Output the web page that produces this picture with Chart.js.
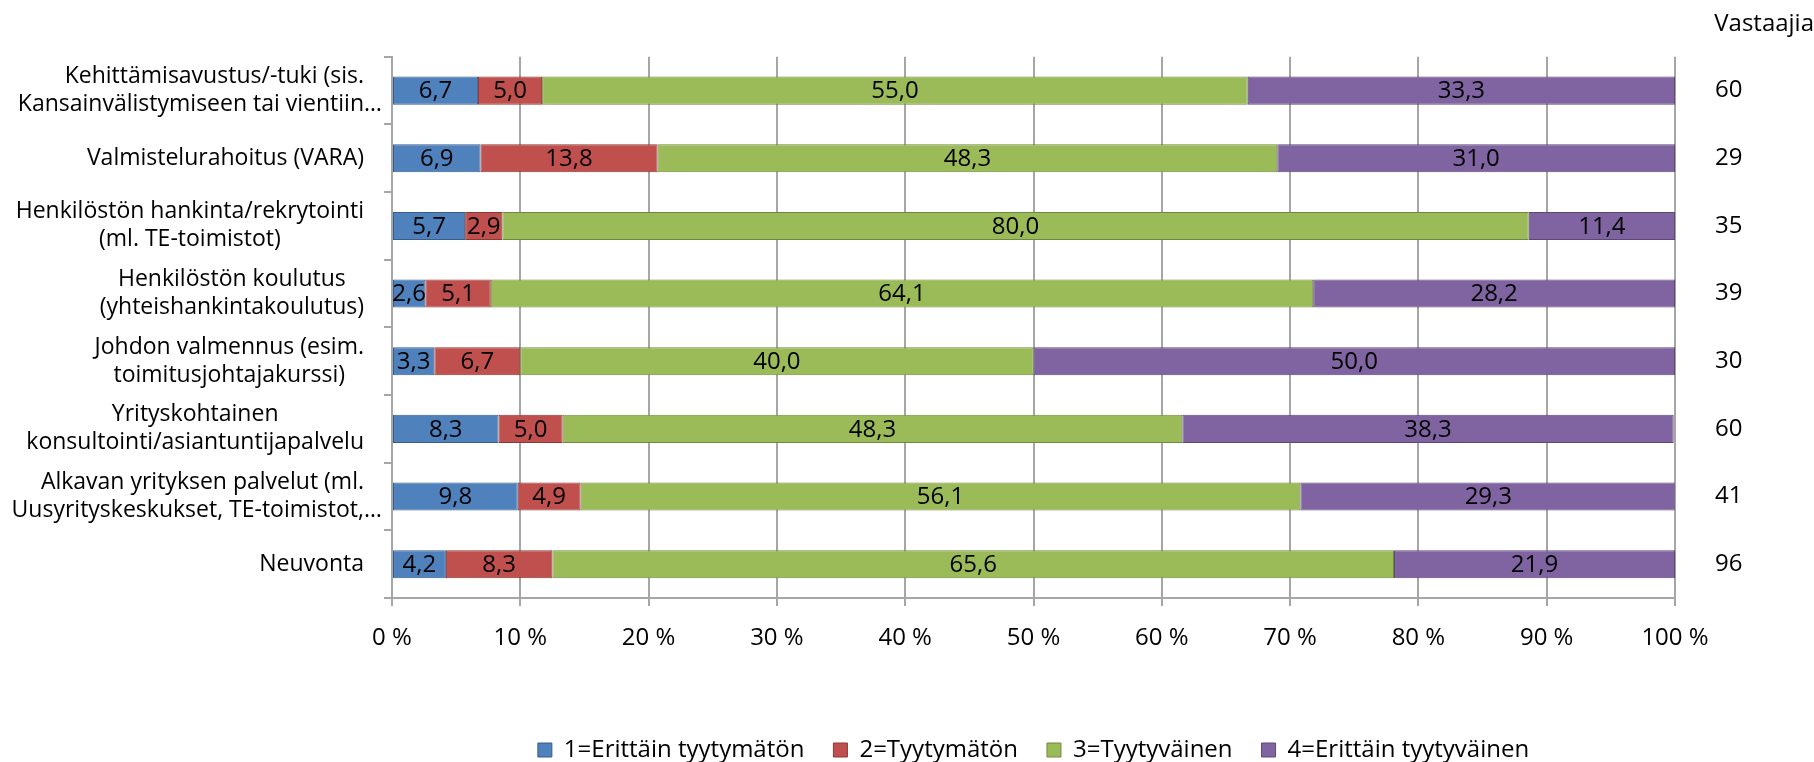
<!DOCTYPE html>
<html>
<head>
<meta charset="utf-8">
<script src="https://cdn.jsdelivr.net/npm/chart.js@4/dist/chart.umd.min.js"></script>
<style>
  html, body { margin: 0; padding: 0; background: #fff; }
  #wrap { width: 1814px; height: 762px; }
</style>
</head>
<body>
<div id="wrap"><canvas id="chart"></canvas></div>
<script>
// categories (top to bottom)
const categories = [
    ["Kehittämisavustus/-tuki (sis.", "Kansainvälistymiseen tai vientiin…"],
    ["Valmistelurahoitus (VARA)"],
    ["Henkilöstön hankinta/rekrytointi", "(ml. TE-toimistot)"],
    ["Henkilöstön koulutus", "(yhteishankintakoulutus)"],
    ["Johdon valmennus (esim.", "toimitusjohtajakurssi)"],
    ["Yrityskohtainen", "konsultointi/asiantuntijapalvelu"],
    ["Alkavan yrityksen palvelut (ml.", "Uusyrityskeskukset, TE-toimistot,…"],
    ["Neuvonta"]
];
const seriesNames = ["1=Erittäin tyytymätön", "2=Tyytymätön", "3=Tyytyväinen", "4=Erittäin tyytyväinen"];
const erittainTyytymaton = [6.7, 6.9, 5.7, 2.6, 3.3, 8.3, 9.8, 4.2];
const tyytymaton = [5.0, 13.8, 2.9, 5.1, 6.7, 5.0, 4.9, 8.3];
const tyytyvainen = [55.0, 48.3, 80.0, 64.1, 40.0, 48.3, 56.1, 65.6];
const erittainTyytyvainen = [33.3, 31.0, 11.4, 28.2, 50.0, 38.3, 29.3, 21.9];
const vastaajia = [60, 29, 35, 39, 30, 60, 41, 96];
const xTicks = [0, 10, 20, 30, 40, 50, 60, 70, 80, 90, 100];

const fillColors = ["#4F81BD", "#C0504D", "#9BBB59", "#8064A2"];
const edgeColors = ["#385D8A", "#8C3836", "#71893F", "#5C4776"];
const gridGray = "#A6A6A6";
const FONT = "'Open Sans', Calibri, sans-serif";

Chart.defaults.font.family = FONT;
Chart.defaults.font.size = 24;
Chart.defaults.color = "#000";

const fmt = v => v.toFixed(1).replace(".", ",");

// numbers inside the bars
const barValues = {
    id: "barValues",
    afterDatasetsDraw(chart) {
        const ctx = chart.ctx;
        ctx.save();
        ctx.font = "24px " + FONT;
        ctx.fillStyle = "#000";
        ctx.textAlign = "center";
        ctx.textBaseline = "middle";
        chart.data.datasets.forEach((ds, i) => {
            chart.getDatasetMeta(i).data.forEach((bar, j) => {
                ctx.fillText(fmt(ds.data[j]), (bar.x + bar.base) / 2, bar.y + 1);
            });
        });
        ctx.restore();
    }
};

// category labels: lines centred inside a right-aligned block
const categoryLabels = {
    id: "categoryLabels",
    afterDraw(chart) {
        const ctx = chart.ctx;
        const y = chart.scales.y;
        const right = y.right - 28;
        const lh = 28;
        ctx.save();
        ctx.font = "23px " + FONT;
        ctx.fillStyle = "#000";
        ctx.textAlign = "left";
        ctx.textBaseline = "middle";
        categories.forEach((lines, i) => {
            const cy = y.getPixelForValue(i);
            const widths = lines.map(l => ctx.measureText(l.replace(/…$/, "")).width);
            const bw = Math.max(...widths);
            const hasEll = lines.some(l => l.endsWith("…"));
            lines.forEach((ln, k) => {
                const ly = cy + (k - (lines.length - 1) / 2) * lh;
                const x = hasEll ? right - widths[k] : right - bw / 2 - widths[k] / 2;
                ctx.fillText(ln, x, ly);
            });
        });
        ctx.restore();
    }
};

const datasets = [erittainTyytymaton, tyytymaton, tyytyvainen, erittainTyytyvainen].map((d, i) => ({
    label: seriesNames[i],
    data: d,
    backgroundColor: fillColors[i],
    borderColor: edgeColors[i],
    borderWidth: 1,
    borderSkipped: false,
    barPercentage: 0.415,
    categoryPercentage: 1
}));

new Chart(document.getElementById("chart"), {
    type: "bar",
    data: { labels: categories.map((c, i) => i), datasets: datasets },
    options: {
        indexAxis: "y",
        responsive: true,
        maintainAspectRatio: false,
        animation: false,
        layout: { padding: { top: 0, right: 0, bottom: 0, left: 0 } },
        plugins: {
            tooltip: { enabled: false },
            title: {
                display: true,
                text: "Vastaajia",
                align: "end",
                font: { size: 24, weight: "normal" },
                padding: { top: 10, bottom: 18 }
            },
            legend: {
                position: "bottom",
                fullSize: false,
                maxHeight: 53,
                labels: { boxWidth: 14, boxHeight: 14, padding: 29, font: { size: 24 } }
            }
        },
        scales: {
            x: {
                stacked: true,
                min: 0,
                max: 100,
                afterBuildTicks: s => { s.ticks = xTicks.map(v => ({ value: v })); },
                ticks: { callback: v => v + " %", padding: 18, font: { size: 24 } },
                grid: { color: gridGray, lineWidth: 2, tickLength: 8 },
                border: { color: gridGray, width: 2 },
                afterFit: s => { s.height = 111; }
            },
            y: {
                stacked: true,
                ticks: { display: false },
                grid: { offset: true, drawOnChartArea: false, color: gridGray, lineWidth: 2, tickLength: 8 },
                border: { color: gridGray, width: 2 },
                afterFit: s => { s.width = 392; }
            },
            y2: {
                type: "category",
                position: "right",
                labels: vastaajia.map(String),
                offset: true,
                grid: { display: false },
                border: { display: false },
                ticks: { padding: 32, font: { size: 24 } },
                afterFit: s => { s.width = 139; }
            }
        }
    },
    plugins: [barValues, categoryLabels]
});
</script>
</body>
</html>
